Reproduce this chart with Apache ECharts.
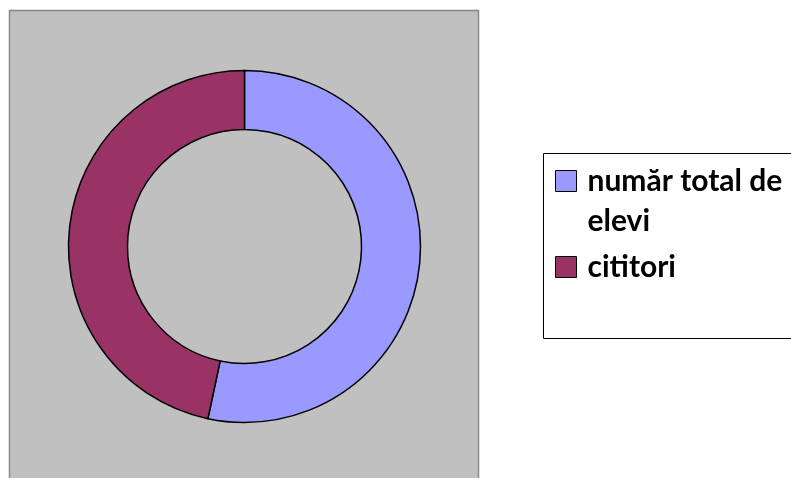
<!DOCTYPE html>
<html>
<head>
<meta charset="utf-8">
<script src="https://cdn.jsdelivr.net/npm/echarts@6/dist/echarts.min.js"></script>
<style>html,body{margin:0;padding:0;background:#fff;}#c{width:791px;height:478px;}</style>
</head>
<body>
<div id="c"></div>
<script>
const categories = ['număr total de elevi', 'cititori'];
const values = [8, 7];
const colors = ['#9999FF', '#993366'];

const chart = echarts.init(document.getElementById('c'), null, {renderer: 'canvas'});
chart.setOption({
  animation: false,
  backgroundColor: '#ffffff',
  graphic: [
    {type: 'rect', z: -10, shape: {x: 9.5, y: 10.5, width: 469, height: 480},
     style: {fill: '#C0C0C0', stroke: '#888888', lineWidth: 1.5}, silent: true},
    {type: 'rect', z: -10, shape: {x: 543.5, y: 153.5, width: 260, height: 185},
     style: {fill: '#ffffff', stroke: '#000000', lineWidth: 1}, silent: true}
  ],
  legend: {
    orient: 'vertical',
    left: 555,
    top: 121,
    padding: 0,
    itemGap: 6,
    itemWidth: 21,
    itemHeight: 21,
    icon: 'rect',
    data: categories,
    formatter: function (name) {
      return name === categories[0] ? ' \nnumăr total de\nelevi' : name;
    },
    textStyle: {
      color: '#000',
      fontFamily: 'Lato',
      fontWeight: 'bold',
      fontSize: 30,
      lineHeight: 40,
      padding: [0, 0, 0, 6]
    },
    itemStyle: {borderColor: '#000', borderWidth: 1}
  },
  series: [{
    type: 'pie',
    center: [244.5, 246.5],
    radius: [117, 176],
    startAngle: 90,
    clockwise: true,
    label: {show: false},
    labelLine: {show: false},
    emphasis: {disabled: true},
    itemStyle: {borderColor: '#000', borderWidth: 1.5},
    data: categories.map((n, i) => ({name: n, value: values[i], itemStyle: {color: colors[i]}}))
  }]
});
</script>
</body>
</html>
